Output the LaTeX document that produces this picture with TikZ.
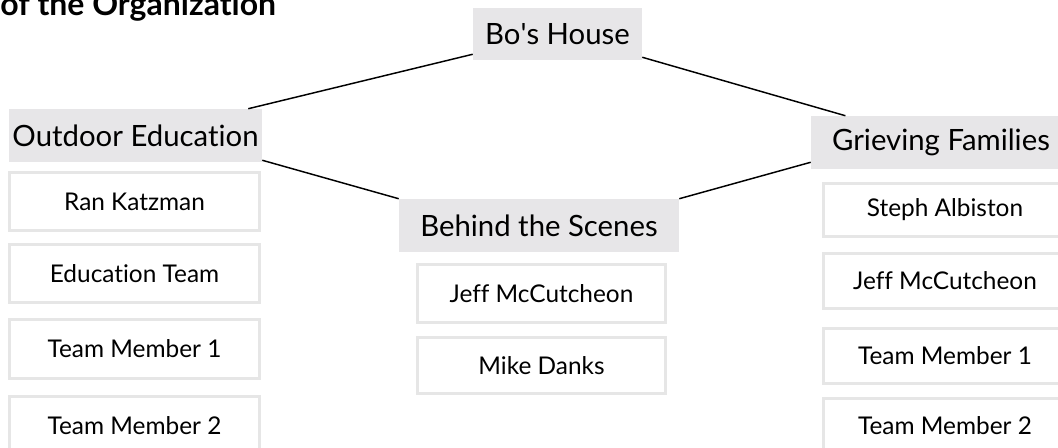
\documentclass[tikz,border=0pt]{standalone}
\usepackage{fontspec}
\setmainfont{Lato}[Ligatures={NoCommon}]
\usetikzlibrary{calc}
\definecolor{hdr}{HTML}{E7E6E8}
\definecolor{mbr}{HTML}{E6E6E6}
\tikzset{
  hdrbox/.style 2 args={fill=hdr, draw=none, inner sep=0pt, minimum width=#1*0.75pt, minimum height=#2*0.75pt, font=\fontsize{22}{26}\selectfont},
  mbrbox/.style 2 args={fill=white, draw=mbr, line width=2.25pt, inner sep=0pt, minimum width=#1*0.75pt, minimum height=#2*0.75pt, font=\fontsize{18.3}{22}\selectfont},
  conn/.style={line width=1.1pt, black}
}
\begin{document}
\begin{tikzpicture}[x=0.75pt, y=-0.75pt]
\useasboundingbox (0,0) rectangle (1058,448);
\node[anchor=base west, inner sep=0pt, font=\fontsize{24}{28}\selectfont\bfseries] (title) at (0,16) {of the Organization};
% headers
\node[hdrbox={169}{52}] (bo) at (557.5,34) {Bo\textquotesingle s House};
\node[hdrbox={253}{53}] (outdoor) at (135.5,135.5) {Outdoor Education};
\node[hdrbox={280}{53}] (behind) at (539,225.5) {Behind the Scenes};
\node[hdrbox={260}{53}] (grieving) at (941,142.5) {Grieving Families};
% left column
\node[mbrbox={250}{58}] (ran) at (134.5,201.5) {Ran Katzman};
\node[mbrbox={250}{58}] (eduteam) at (134.5,273.5) {Education Team};
\node[mbrbox={250}{59}] (ltm1) at (134.5,349) {Team Member 1};
\node[mbrbox={250}{58}] (ltm2) at (134.5,425.5) {Team Member 2};
% middle column
\node[mbrbox={248}{58}] (jeffm) at (541.5,293.5) {Jeff McCutcheon};
\node[mbrbox={248}{56}] (mike) at (541.5,365.5) {Mike Danks};
% right column
\node[mbrbox={243}{53}] (steph) at (945,210) {Steph Albiston};
\node[mbrbox={243}{55}] (jeffr) at (945,281) {Jeff McCutcheon};
\node[mbrbox={243}{55}] (rtm1) at (945,356) {Team Member 1};
\node[mbrbox={243}{55}] (rtm2) at (945,426) {Team Member 2};
% connectors
\draw[conn] ([yshift=4.5pt]bo.south west) -- ([xshift=-10.5pt]outdoor.north east);
\draw[conn] ([yshift=2.25pt]bo.south east) -- ([xshift=26pt]grieving.north west);
\draw[conn] ([yshift=1.5pt]outdoor.south east) -- (behind.north west);
\draw[conn] (behind.north east) -- ([yshift=5.25pt]grieving.south west);
\end{tikzpicture}
\end{document}
